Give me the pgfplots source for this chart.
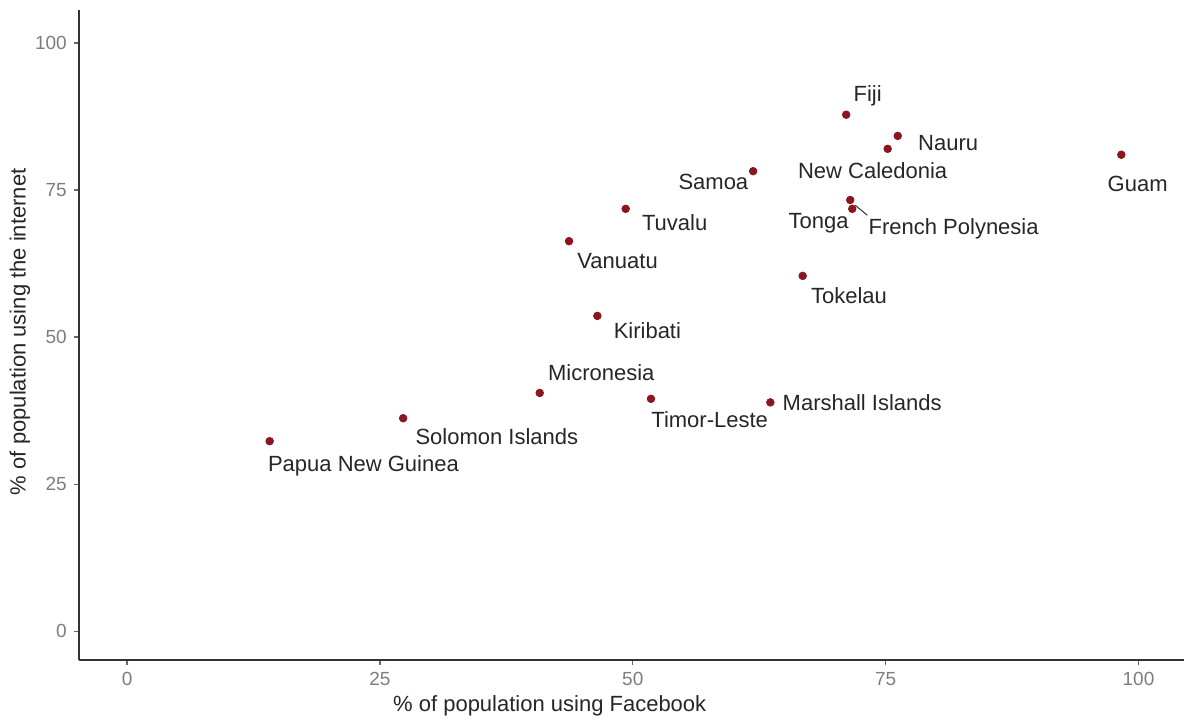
\documentclass[border=0pt]{standalone}
\usepackage{pgfplots}
\usepackage{pgfplotstable}
\usepackage{fontspec}
\setmainfont{Liberation Sans}
\pgfplotsset{compat=1.18}
\definecolor{pt}{RGB}{139,22,30}
\definecolor{ticklab}{RGB}{125,125,125}

% x y label, label offset (pt) from the point to the label's west anchor
\pgfplotstableread{
x     y     label               dx     dy
14.1  32.3  {Papua New Guinea}  -1     -12.5
27.3  36.2  {Solomon Islands}   6      -9
40.8  40.5  Micronesia          4      10
51.8  39.5  Timor-Leste         0      -10.5
63.6  38.9  {Marshall Islands}  6      0
46.5  53.6  Kiribati            8      -7.5
43.7  66.3  Vanuatu             4      -10
49.3  71.8  Tuvalu              8      -7
61.9  78.2  Samoa               -37.5  -5.5
66.8  60.4  Tokelau             4      -10
71.5  73.3  Tonga               -31    -11.5
71.7  71.8  {French Polynesia}  8      -10
71.1  87.8  Fiji                3.5    9.5
76.2  84.2  Nauru               10     -3.5
75.2  82.0  {New Caledonia}     -45    -11
98.3  81.0  Guam                -7     -14.5
}\pacific

\begin{document}
\begin{tikzpicture}[font=\fontsize{11}{13}\selectfont]
\begin{axis}[
    name=ax,
    scale only axis,
    width=552.5pt,
    height=325pt,
    xmin=-4.75, xmax=104.5,
    ymin=-4.9, ymax=105.6,
    axis lines*=left,
    axis line style={black!80, line width=0.8pt},
    xtick={0,25,50,75,100},
    ytick={0,25,50,75,100},
    tick style={black!60, line width=0.6pt},
    tick align=outside,
    major tick length=2.6pt,
    tick label style={font=\fontsize{9.5}{11}\selectfont, text=ticklab},
    /pgf/number format/assume math mode=true,
    xlabel={\% of population using Facebook},
    ylabel={\% of population using the internet},
    x label style={at={(axis description cs:0.426,0)}, anchor=center, yshift=-23pt, text=black!85},
    y label style={at={(axis description cs:0,0.505)}, anchor=center, yshift=29.5pt, text=black!85},
    clip=false,
]
\addplot[
    only marks,
    mark=*,
    mark size=1.9pt,
    mark options={fill=pt, draw=pt},
    point meta=explicit symbolic,
    visualization depends on={\thisrow{dx} \as \dx},
    visualization depends on={\thisrow{dy} \as \dy},
    nodes near coords,
    nodes near coords style={anchor=west, inner sep=0pt, text=black!85,
        xshift=\dx pt, yshift=\dy pt, font=\fontsize{11}{13}\selectfont},
] table[x=x, y=y, meta=label] {\pacific};
\draw[black!80, line width=0.5pt] (axis cs:72.0,72.4) -- (axis cs:73.2,70.7);
\end{axis}
\pgfresetboundingbox
\useasboundingbox ([xshift=-39.5pt, yshift=-30pt]ax.south west) rectangle ([yshift=5pt]ax.north east);
\end{tikzpicture}
\end{document}
